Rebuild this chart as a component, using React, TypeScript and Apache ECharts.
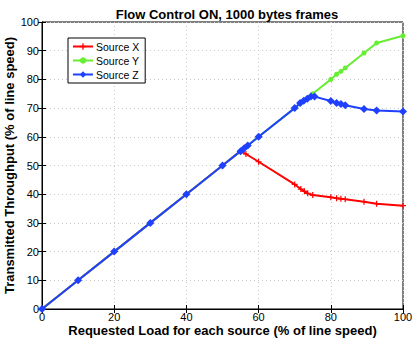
import React, { useEffect, useRef } from "react";
import * as echarts from "echarts";

const xTicks = [0, 20, 40, 60, 80, 100];
const yTicks = [0, 10, 20, 30, 40, 50, 60, 70, 80, 90, 100];

const sourceXLoad = [0, 10, 20, 30, 40, 50, 55, 56.5, 60, 70, 71.7, 72.7, 73.6, 75, 80, 81.6, 82.8, 84, 89.2, 92.7, 100];
const sourceXThr = [0, 10, 20, 30, 40, 50, 55, 54, 51.3, 43.4, 41.8, 41, 40.3, 39.7, 38.9, 38.6, 38.4, 38.2, 37.4, 36.7, 36];

const sourceYLoad = [0, 10, 20, 30, 40, 50, 55, 56, 57, 60, 70, 71.5, 72.5, 73.5, 75, 80, 81.6, 82.8, 84, 89.2, 92.7, 100];
const sourceYThr = [0, 10, 20, 30, 40, 50, 55, 56, 57, 60, 70, 71.5, 72.5, 73.5, 75, 80, 81.8, 82.8, 84, 89.2, 92.7, 95.2];

const sourceZLoad = [0, 10, 20, 30, 40, 50, 55, 56, 57, 60, 70, 71.5, 72.5, 73.5, 74.5, 75.5, 80, 81.6, 82.8, 84, 89.2, 92.7, 100];
const sourceZThr = [0, 10, 20, 30, 40, 50, 55, 56, 57, 60, 70, 71.8, 72.6, 73.3, 74, 74, 72.5, 71.8, 71.4, 71, 69.7, 69.2, 68.8];

const seriesNames = ["Source X", "Source Y", "Source Z"];
const colors = ["#ff0000", "#66ee33", "#2040ff"];

const zip = (a: number[], b: number[]) => a.map((v, i) => [v, b[i]]);

const FONT = "Liberation Sans, Arial, Helvetica, sans-serif";
const PLUS = "path://M4,0h2v4h4v2h-4v4h-2v-4h-4v-2h4z";

export default function App() {
  const ref = useRef<HTMLDivElement>(null);
  useEffect(() => {
    if (!ref.current) return;
    const chart = echarts.init(ref.current, undefined, { renderer: "svg" });
    const baseSeries = (i: number, data: number[][], symbol: string, size: number) => ({
      name: seriesNames[i],
      type: "line",
      data,
      symbol,
      symbolSize: size,
      showSymbol: true,
      lineStyle: { color: colors[i], width: 2 },
      itemStyle: { color: colors[i], borderWidth: 0 },
      emphasis: { disabled: true },
      z: 2 + i,
    });
    chart.setOption({
      animation: false,
      textStyle: { fontFamily: FONT },
      title: {
        text: "Flow Control ON, 1000 bytes frames",
        left: 222,
        top: 3,
        textAlign: "center",
        textStyle: { fontFamily: FONT, fontSize: 13, fontWeight: "bold", color: "#000" },
      },
      legend: {
        orient: "vertical",
        left: 68,
        top: 38,
        width: 73,
        backgroundColor: "#fff",
        borderColor: "#000",
        borderWidth: 1,
        borderRadius: 0,
        padding: [3, 6, 3, 4],
        itemWidth: 20,
        itemHeight: 8,
        itemGap: 3,
        textStyle: { fontFamily: FONT, fontSize: 10.5, color: "#000", padding: [0, 0, 0, -2] },
        data: seriesNames,
        z: 10,
      },
      grid: {
        left: 42,
        right: 12,
        top: 22,
        bottom: 30,
        containLabel: false,
        outerBoundsMode: "none",
        show: true,
        borderColor: "#000",
        borderWidth: 1,
        backgroundColor: "#fff",
      },
      xAxis: [
        {
          type: "value",
          min: 0,
          max: 100,
          interval: 20,
          name: "Requested Load for each source (% of line speed)",
          nameLocation: "middle",
          nameGap: 15,
          nameMoveOverlap: false,
          nameTextStyle: { fontFamily: FONT, fontSize: 13, fontWeight: "bold", color: "#000" },
          axisLine: { show: true, lineStyle: { color: "#000", width: 1 } },
          axisTick: { show: true, inside: true, length: 4, lineStyle: { color: "#000" } },
          axisLabel: { color: "#000", fontSize: 11, margin: 2, fontFamily: FONT, formatter: (v: number) => (xTicks.includes(v) ? String(v) : "") },
          splitLine: { show: true, lineStyle: { color: "#c8c8c8", type: [1, 3], width: 1 } },
        },
        {
          type: "value",
          position: "top",
          min: 0,
          max: 100,
          interval: 20,
          axisLine: { show: true, lineStyle: { color: "#000" } },
          axisTick: { show: true, inside: true, length: 4, lineStyle: { color: "#000" } },
          axisLabel: { show: false },
          splitLine: { show: false },
        },
      ],
      yAxis: [
        {
          type: "value",
          min: 0,
          max: 100,
          interval: 10,
          name: "Transmitted Throughput (% of line speed)",
          nameLocation: "middle",
          nameGap: 26,
          nameMoveOverlap: false,
          nameTextStyle: { fontFamily: FONT, fontSize: 13, fontWeight: "bold", color: "#000" },
          axisLine: { show: true, lineStyle: { color: "#000", width: 1 } },
          axisTick: { show: true, inside: true, length: 4, lineStyle: { color: "#000" } },
          axisLabel: { color: "#000", fontSize: 11, margin: 3, fontFamily: FONT, formatter: (v: number) => (yTicks.includes(v) ? String(v) : "") },
          splitLine: { show: true, lineStyle: { color: "#c8c8c8", type: [1, 3], width: 1 } },
        },
        {
          type: "value",
          position: "right",
          min: 0,
          max: 100,
          interval: 10,
          axisLine: { show: true, lineStyle: { color: "#000" } },
          axisTick: { show: true, inside: true, length: 4, lineStyle: { color: "#000" } },
          axisLabel: { show: false },
          splitLine: { show: false },
        },
      ],
      series: [
        baseSeries(0, zip(sourceXLoad, sourceXThr), PLUS, 6),
        baseSeries(1, zip(sourceYLoad, sourceYThr), "circle", 5),
        baseSeries(2, zip(sourceZLoad, sourceZThr), "diamond", 8),
      ],
    });
    return () => chart.dispose();
  }, []);
  return (
    <div
      ref={ref}
      style={{ position: "fixed", left: 0, top: 0, width: 415, height: 339, background: "#fff" }}
    />
  );
}
